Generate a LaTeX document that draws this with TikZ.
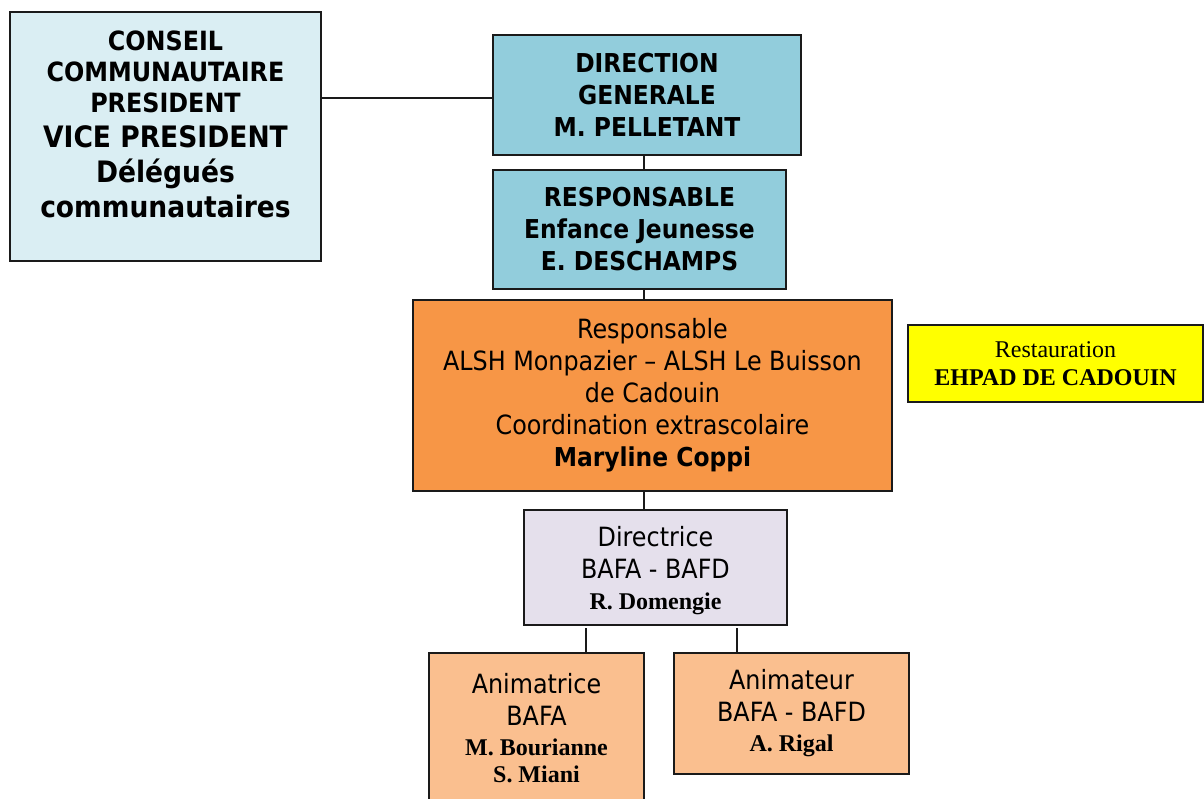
\documentclass[tikz,border=0pt]{standalone}
\usepackage{fontspec}
\setmainfont{DejaVu Sans Condensed}
\newfontfamily\tms{Liberation Serif}
\definecolor{cConseil}{HTML}{DAEEF3}
\definecolor{cBlue}{HTML}{92CDDC}
\definecolor{cOrange}{HTML}{F79646}
\definecolor{cYellow}{HTML}{FFFF00}
\definecolor{cLilac}{HTML}{E5E0EC}
\definecolor{cPeach}{HTML}{FABF8F}
\definecolor{cLine}{HTML}{1A1A1A}
\newcommand\fBa{\bfseries\fontsize{26.5}{31}\selectfont}
\newcommand\fBb{\bfseries\fontsize{29.5}{31}\selectfont}
\newcommand\fB{\bfseries\fontsize{26}{32}\selectfont}
\newcommand\fR{\mdseries\fontsize{26.5}{32}\selectfont}
\newcommand\fS{\tms\bfseries\fontsize{24}{32}\selectfont}
\newcommand\fT{\tms\mdseries\fontsize{24}{28}\selectfont}
\begin{document}
\begin{tikzpicture}[x=1pt,y=-1pt,
  box/.style={draw=cLine, line width=1.5pt, rectangle, inner sep=0pt, align=center},
  conn/.style={draw=cLine, line width=1.3pt}]
\useasboundingbox (0,0) rectangle (1204,799);
% boxes
\node[box, fill=cConseil, minimum width=311pt, minimum height=249pt] (conseil) at (165.5,136.5) {};
\node[align=center, inner sep=0pt, font=\fontsize{26.5}{31}\selectfont] (conseiltxt) at (165.5,124)
  {\fBa CONSEIL\\\fBa COMMUNAUTAIRE\\\fBa PRESIDENT\\[4pt]\fBb VICE PRESIDENT\\[4pt]\fBb Délégués\\[4pt]\fBb communautaires};
\node[box, fill=cBlue, minimum width=308pt, minimum height=120pt, font=\fB] (dg) at (647,95)
  {\fB DIRECTION\\\fB GENERALE\\\fB M. PELLETANT};
\node[box, fill=cBlue, minimum width=293pt, minimum height=119pt, font=\fB] (rej) at (639.5,229.5)
  {\fB RESPONSABLE\\\fB Enfance Jeunesse\\\fB E. DESCHAMPS};
\node[box, fill=cOrange, minimum width=479pt, minimum height=191pt, font=\fR] (orange) at (652.5,395.5)
  {\fR Responsable\\\fR ALSH Monpazier – ALSH Le Buisson\\\fR de Cadouin\\\fR Coordination extrascolaire\\\fB Maryline Coppi};
\node[box, fill=cYellow, minimum width=295pt, minimum height=77pt, font=\fT] (resto) at (1055.5,363.5)
  {\fT Restauration\\\fS EHPAD DE CADOUIN};
\node[box, fill=cLilac, minimum width=263pt, minimum height=115pt, font=\fR] (dir) at (655.5,567.5)
  {\fR\rule{0pt}{27pt}Directrice\\\fR BAFA - BAFD\\[-1pt]\fS R. Domengie};
\node[box, fill=cPeach, minimum width=215pt, minimum height=150pt, font=\fR] (anim1) at (536.5,728)
  {\fR Animatrice\\\fR BAFA\\[-2pt]\fS M. Bourianne\\[-5pt]\fS S. Miani};
\node[box, fill=cPeach, minimum width=235pt, minimum height=121pt, font=\fR] (anim2) at (791.5,713.5)
  {\fR Animateur\\\fR BAFA - BAFD\\[-2pt]\fS A. Rigal};
% connectors
\coordinate (sp) at (644,0);
\coordinate (hl) at (0,98);
\coordinate (b1) at (586,628);
\coordinate (b2) at (737,628);
\draw[conn] (conseil.east |- hl) -- (dg.west |- hl);
\draw[conn] (dg.south -| sp) -- (rej.north -| sp);
\draw[conn] (rej.south -| sp) -- (orange.north -| sp);
\draw[conn] (orange.south -| sp) -- (dir.north -| sp);
\draw[conn] (b1) -- (b1 |- anim1.north);
\draw[conn] (b2) -- (b2 |- anim2.north);
\end{tikzpicture}
\end{document}
